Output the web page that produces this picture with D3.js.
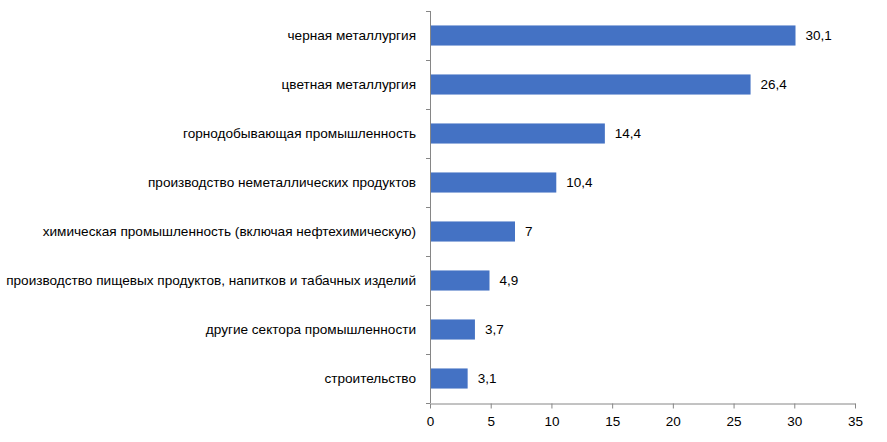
<!DOCTYPE html>
<html><head><meta charset="utf-8">
<script src="https://cdn.jsdelivr.net/npm/d3@7"></script>
<style>body{margin:0;background:#fff}svg{display:block}text{font-family:"Liberation Sans",Arial,sans-serif;fill:#000}</style>
</head><body>
<svg id="c" width="887" height="442"></svg>
<script>
const categories = ["черная металлургия","цветная металлургия","горнодобывающая промышленность","производство неметаллических продуктов","химическая промышленность (включая нефтехимическую)","производство пищевых продуктов, напитков и табачных изделий","другие сектора промышленности","строительство"];
const values = [30.1,26.4,14.4,10.4,7,4.9,3.7,3.1];
const xTicks = [0,5,10,15,20,25,30,35];

const svg = d3.select("#c");
const m = {left:430, right:32, top:11, bottom:39};
const W = 887, H = 442;
const x = d3.scaleLinear().domain([0,35]).range([m.left, W-m.right]);
const y = d3.scaleBand().domain(categories).range([m.top, H-m.bottom]).paddingInner(0.59).paddingOuter(0.295);
const fmt = v => String(v).replace(".", ",");

svg.selectAll("rect.bar").data(values).join("rect")
  .attr("x", x(0)).attr("y",(d,i)=>y(categories[i]))
  .attr("width", d=>x(d)-x(0)).attr("height", y.bandwidth())
  .attr("fill","#4472C4");

svg.selectAll("text.val").data(values).join("text")
  .attr("x", d=>x(d)+10).attr("y",(d,i)=>y(categories[i])+y.bandwidth()/2)
  .attr("dy","0.35em").attr("font-size","13.5px").text(fmt);

// y axis
const yb = H-m.bottom;
const step = (yb-m.top)/categories.length;
const g = svg.append("g");
g.append("line").attr("x1",x(0)+0.5).attr("x2",x(0)+0.5).attr("y1",m.top).attr("y2",yb).attr("stroke","#868686");
for(let i=0;i<=categories.length;i++){
  const yy = Math.round(m.top + i*step)+0.5;
  g.append("line").attr("x1",x(0)-4).attr("x2",x(0)).attr("y1",yy).attr("y2",yy).attr("stroke","#868686");
}
svg.selectAll("text.cat").data(categories).join("text")
  .attr("x", x(0)-14).attr("y", d=>y(d)+y.bandwidth()/2).attr("dy","0.35em")
  .attr("text-anchor","end").attr("font-size","13.6px").text(d=>d);

// x axis
const xa = svg.append("g").attr("transform",`translate(0,${yb+0.5})`)
  .call(d3.axisBottom(x).tickValues(xTicks).tickSize(5).tickSizeOuter(0).tickPadding(8).tickFormat(d=>d));
xa.select(".domain").attr("stroke","#868686");
xa.selectAll(".tick line").attr("stroke","#868686");
xa.selectAll(".tick text").attr("font-size","13.5px").attr("fill","#000").attr("font-family","Liberation Sans, Arial, sans-serif");
</script>
</body></html>
